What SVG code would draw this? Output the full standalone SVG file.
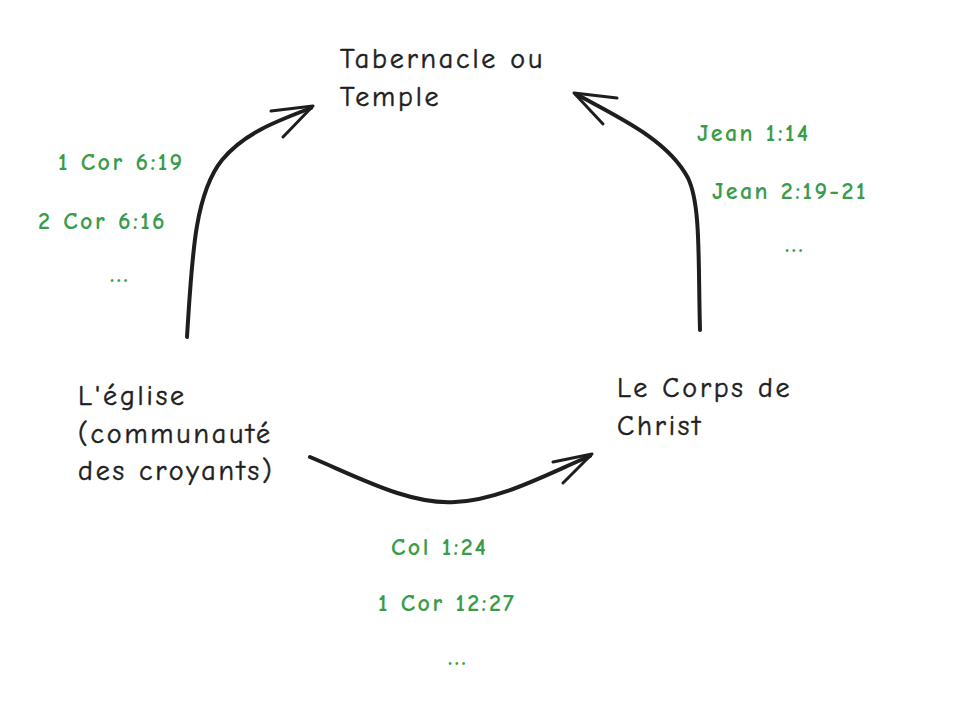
<svg xmlns="http://www.w3.org/2000/svg" width="968" height="720" viewBox="0 0 968 720">
<style>
.lbl{font-family:"Comic Neue","Liberation Sans",sans-serif;font-size:28px;letter-spacing:2.8px;fill:#1e1e1e;stroke:#1e1e1e;stroke-width:0.5px}
.ref{font-family:"Comic Neue","Liberation Sans",sans-serif;font-size:24px;font-weight:bold;letter-spacing:2.4px;fill:#3a9c48}
.con{fill:none;stroke:#1e1e1e;stroke-width:4;stroke-linecap:round;stroke-linejoin:round}
.head{fill:none;stroke:#1e1e1e;stroke-width:3;stroke-linecap:round;stroke-linejoin:round}
</style>
<rect width="968" height="720" fill="#ffffff"/>
<g id="connectors">
<path class="con" d="M187,337 C192,260 194,195 222,160 C245,132 280,120 311,108"/>
<path class="head" d="M271,111 L313,106 L283,137"/>
<path class="con" d="M700,330 C698,260 701,205 688,178 C668,140 620,118 576,94"/>
<path class="head" d="M617,98 L574,93 L603,124"/>
<path class="con" d="M310,457 C360,478 410,505 455,502 C500,500 545,475 590,456"/>
<path class="head" d="M553,462 L592,454 L563,483"/>
</g>
<g id="node-temple">
<text class="lbl" x="340" y="68">Tabernacle ou</text>
<text class="lbl" x="340" y="106">Temple</text>
</g>
<g id="node-eglise">
<text class="lbl" x="78" y="405">L'église</text>
<text class="lbl" x="78" y="443">(communauté</text>
<text class="lbl" x="78" y="480">des croyants)</text>
</g>
<g id="node-corps">
<text class="lbl" x="617" y="397">Le Corps de</text>
<text class="lbl" x="617" y="435">Christ</text>
</g>
<g id="refs-left">
<text class="ref" x="58" y="170">1 Cor 6:19</text>
<text class="ref" x="38" y="229">2 Cor 6:16</text>
<text class="ref" x="110" y="282">...</text>
</g>
<g id="refs-right">
<text class="ref" x="697" y="141">Jean 1:14</text>
<text class="ref" x="712" y="199">Jean 2:19-21</text>
<text class="ref" x="785" y="252">...</text>
</g>
<g id="refs-bottom">
<text class="ref" x="391" y="555">Col 1:24</text>
<text class="ref" x="378" y="611">1 Cor 12:27</text>
<text class="ref" x="448" y="665">...</text>
</g>
</svg>
